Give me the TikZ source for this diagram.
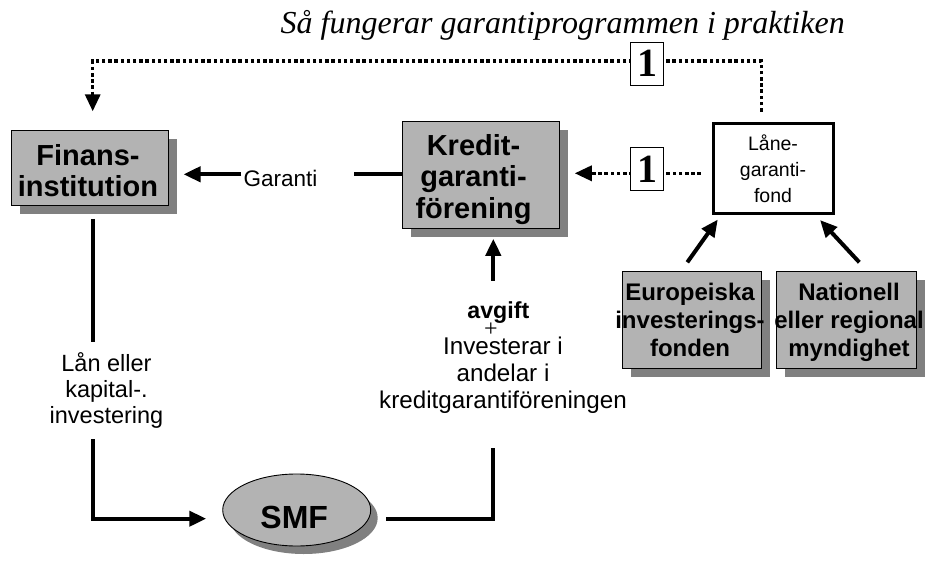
\documentclass[tikz,border=0pt]{standalone}
\usepackage{fontspec}
\setmainfont{Liberation Sans}
\newfontfamily\seriffont{Liberation Serif}
\usetikzlibrary{arrows.meta,shadows,shapes.geometric}
\definecolor{boxgray}{HTML}{B3B3B3}
\definecolor{shadowgray}{HTML}{808080}
\begin{document}
\begin{tikzpicture}[x=1pt,y=-1pt,
  shadowed/.style={drop shadow={shadow xshift=8.5pt,shadow yshift=-8.5pt,fill=shadowgray,opacity=1}},
  graybox/.style={draw=black,line width=0.9pt,fill=boxgray,shadowed,inner sep=0pt},
  boxtext/.style={align=center,anchor=base,inner sep=0pt},
  conn/.style={line width=4pt},
  arr/.style={conn,-{Triangle[length=17pt,width=15pt]}},
  dotline/.style={line width=3.3pt,dash pattern=on 3.5pt off 2.7pt,-{Triangle[length=17pt,width=15pt]}},
  numbox/.style={draw=black,line width=0.8pt,fill=white,minimum width=33pt,minimum height=43pt,inner sep=0pt,
    font=\seriffont\bfseries\fontsize{40pt}{40pt}\selectfont}
]
\useasboundingbox (0,0) rectangle (925,561);

% heading
\node[anchor=base east,inner sep=0pt,font=\seriffont\itshape\fontsize{32pt}{36pt}\selectfont]
  (title) at (845,33.3) {Så fungerar garantiprogrammen i praktiken};

% boxes (multi-line texts are placed by the baseline of their last line)
\node[graybox,minimum width=156.3pt,minimum height=75.7pt] (finans) at (89.9,167.9) {};
\node[boxtext,font=\bfseries\fontsize{29pt}{30.7pt}\selectfont] (finans-t) at (88,196.7) {Finans-\\institution};

\node[graybox,minimum width=157pt,minimum height=106.6pt] (kredit) at (480.8,175) {};
\node[boxtext,font=\bfseries\fontsize{29pt}{31.6pt}\selectfont] (kredit-t) at (473.5,218.3) {Kredit-\\garanti-\\förening};

\node[draw=black,line width=3.5pt,fill=white,minimum width=119.8pt,minimum height=89.8pt,inner sep=0pt] (laane) at (773.4,168.4) {};
\node[boxtext,font=\fontsize{19.5pt}{25.8pt}\selectfont] (laane-t) at (773,202.1) {Låne-\\garanti-\\fond};

\node[graybox,minimum width=139pt,minimum height=96.6pt] (eur) at (692.2,320) {};
\node[boxtext,font=\bfseries\fontsize{24pt}{28.3pt}\selectfont] (eur-t) at (690,356.7) {Europeiska\\investerings-\\fonden};

\node[graybox,minimum width=140pt,minimum height=96.6pt] (nat) at (846.7,320) {};
\node[boxtext,font=\bfseries\fontsize{24pt}{28.3pt}\selectfont] (nat-t) at (849,356.7) {Nationell\\eller regional\\myndighet};

\node[ellipse,draw=black,line width=0.9pt,fill=boxgray,minimum width=148pt,minimum height=72pt,inner sep=0pt,
  drop shadow={shadow xshift=7pt,shadow yshift=-8pt,fill=shadowgray,opacity=1}] (smf) at (296.7,510) {};
\node[boxtext,font=\bfseries\fontsize{32pt}{36pt}\selectfont] (smf-t) at (294.2,528.3) {SMF};

% free texts
\node[anchor=base,inner sep=0pt,font=\fontsize{22.5pt}{27pt}\selectfont] (garanti) at (280.5,186.7) {Garanti};
\node[boxtext,font=\fontsize{23.5pt}{25.8pt}\selectfont] (lan) at (106.5,423.3) {Lån eller\\kapital-.\\investering};
\node[anchor=base,inner sep=0pt,font=\bfseries\fontsize{23.2pt}{28pt}\selectfont] (avgift) at (498.3,318.3) {avgift};
\node[inner sep=0pt,font=\seriffont\fontsize{24pt}{24pt}\selectfont] (plus) at (491,329.5) {+};
\node[boxtext,font=\fontsize{24.2pt}{27pt}\selectfont] (invest) at (503,408.3) {Investerar i\\andelar i\\kreditgarantiföreningen};

% helper positions
\coordinate (ym) at (0,173.3);
\coordinate (yg) at (0,174.3);
\coordinate (ybot) at (0,518.7);
\coordinate (lgx) at (761.7,0);
\coordinate (topR) at (761.7,61);
\coordinate (topL) at (92.7,61);
\coordinate (l1) at (92.7,341.7);
\coordinate (l2) at (92.7,439.3);
\coordinate (r1) at (493.3,280.7);
\coordinate (r2) at (493.3,448.3);
\coordinate (eurt) at (687.3,262.3);
\coordinate (natt) at (859.3,262.3);

% dotted routes from the loan guarantee fund
\draw[dotline,shorten <=10.2pt,shorten >=18.3pt] (lgx |- laane.north) -- (topR) -- (topL) -- (topL |- finans.north);
\draw[dotline,shorten <=10.8pt,shorten >=15pt] (laane.west |- ym) -- (kredit.east |- ym);
\node[numbox] (one-top) at (647,63.7) {1};
\node[numbox] (one-mid) at (647,169) {1};

% guarantee
\draw[conn] (kredit.west |- yg) -- ++(-48.3,0);
\draw[arr,shorten >=15pt] ([xshift=-2pt]garanti.west |- yg) -- (finans.east |- yg);

% loan flow
\draw[conn,shorten <=12.6pt] (finans.south -| l1) -- (l1);
\draw[arr,shorten >=16pt] (l2) |- (smf.west |- ybot);

% fee flow
\draw[conn,shorten <=15.3pt] (smf.east |- ybot) -| (r2);
\draw[arr,shorten >=10pt] (r1) -- (kredit.south -| r1);

% funding of the loan guarantee fund
\draw[arr] (eurt) -- ([shift={(6,4.5)}]laane.south west);
\draw[arr] (natt) -- ([shift={(-15,5)}]laane.south east);
\end{tikzpicture}
\end{document}
